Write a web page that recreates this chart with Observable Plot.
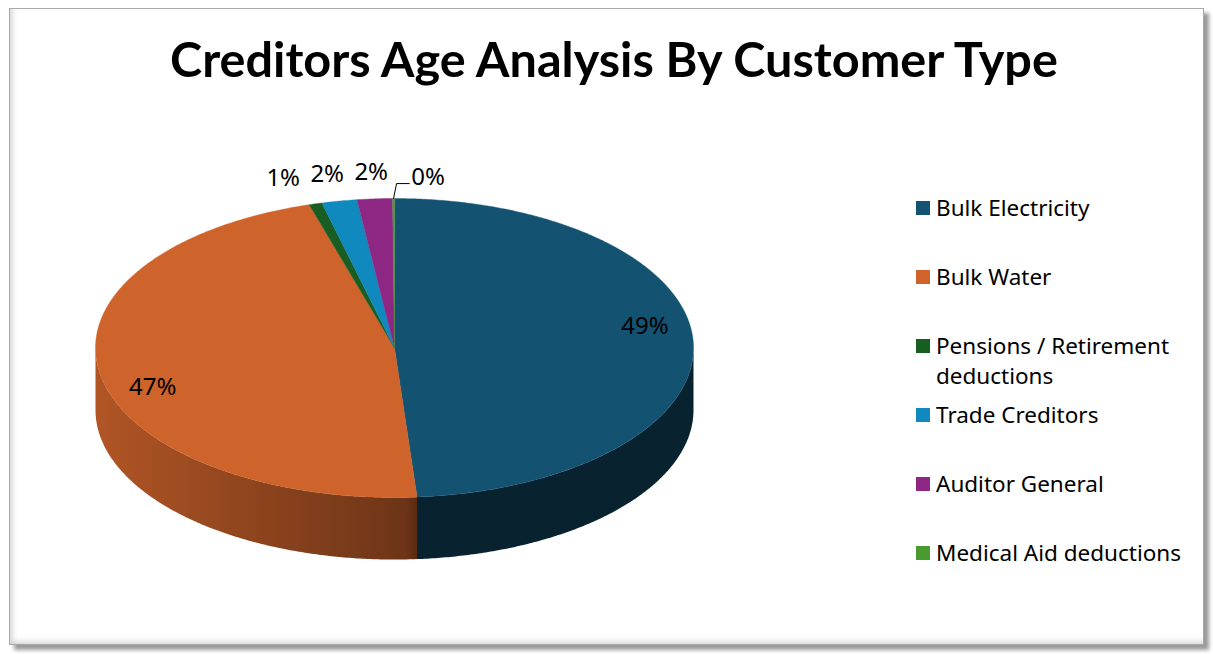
<!DOCTYPE html>
<html>
<head>
<meta charset="utf-8">
<script src="https://cdn.jsdelivr.net/npm/d3@7"></script>
<script src="https://cdn.jsdelivr.net/npm/@observablehq/plot@0.6"></script>
<style>
  html, body { margin: 0; padding: 0; background: #fff; }
  body { width: 1213px; height: 654px; overflow: hidden; position: relative; font-family: "Noto Sans", Lato, sans-serif; }
  #frame { position: absolute; left: 9px; top: 8px; width: 1193px; height: 635px; border: 1px solid #a9a9a9;
           box-shadow: 5px 5px 4px #9a9a9a, inset 8px 0 6px -6px #d0d0d0, inset 0 -8px 6px -6px #d0d0d0; background: #fff; }
  #chart { position: absolute; left: 0; top: 0; }
  #title { position: absolute; left: 0; width: 1228px; top: 32px; text-align: center; font-family: Lato, "Noto Sans", sans-serif;
           font-weight: 700; font-size: 44px; line-height: 52px; color: #000; white-space: nowrap; }
  #title span { display: inline-block; }
  .item { position: absolute; left: 916px; width: 270px; font-size: 22.5px; line-height: 30px; color: #000; }
  .sw { position: absolute; left: 0; top: 8px; width: 14px; height: 14px; }
  .tx { position: absolute; left: 20px; top: 0; width: 250px; }
</style>
</head>
<body>
<div id="frame"></div>
<div id="chart"></div>
<div id="title"><span id="titleText">Creditors Age Analysis By Customer Type</span></div>
<div id="legend"></div>
<script>
// ---- data ----
const categories = ["Bulk Electricity", "Bulk Water", "Pensions / Retirement deductions", "Trade Creditors", "Auditor General", "Medical Aid deductions"];
const shares = [48.8, 46.6, 0.7, 1.9, 1.9, 0.1];
const colors = ["#145272", "#CE632B", "#185E22", "#1089BE", "#8E2784", "#4A9B2F"];

// ---- geometry helpers ----
const deg = Math.PI / 180;
const DEPTH = 0.415;                 // side-wall thickness, in y units
const PXX = 2 / 598, PXY = 2 / 299;  // data units per pixel
const total = d3.sum(shares);
let cum = 0;
const slices = shares.map((v, i) => {
  const a0 = cum / total * 2 * Math.PI; cum += v;
  const a1 = cum / total * 2 * Math.PI;
  return { i, name: categories[i], value: v, a0, a1, mid: (a0 + a1) / 2, color: colors[i], label: Math.round(v / total * 100) + "%" };
});

function shade(ux) { return ux < 0.08 ? 0.54 - 0.32 * ux : 0.42; }
function darken(c, f) { const r = d3.rgb(c); return d3.rgb(r.r * f, r.g * f, r.b * f).formatHex(); }

const topFaces = [], sides = [];
for (const s of slices) {
  const n = Math.max(2, Math.ceil((s.a1 - s.a0) / (0.5 * deg)));
  const k = "t" + s.i;
  topFaces.push({ k, x: 0, y: 0, c: s.color });
  for (let j = 0; j <= n; j++) {
    const a = s.a0 + (s.a1 - s.a0) * j / n;
    topFaces.push({ k, x: Math.sin(a), y: Math.cos(a), c: s.color });
  }
  const lo = Math.max(s.a0, Math.PI / 2), hi = Math.min(s.a1, 3 * Math.PI / 2);
  if (hi > lo) {
    const m = Math.ceil((hi - lo) / (0.5 * deg));
    const ks = "s" + s.i, c = `url(#sideGrad${s.i})`;
    const edge = d3.range(m + 1).map(j => lo + (hi - lo) * j / m);
    for (const a of edge) sides.push({ k: ks, x: Math.sin(a), y: Math.cos(a), c });
    for (const a of edge.slice().reverse()) sides.push({ k: ks, x: Math.sin(a), y: Math.cos(a) - DEPTH, c });
  }
}

// ---- labels ----
const inside = [], outside = [], called = [], leader = [];
for (const s of slices) {
  if (s.value / total >= 0.1) {
    const a = s.mid - 7.5 * deg;
    inside.push({ x: 0.85 * Math.sin(a), y: 0.85 * Math.cos(a), label: s.label });
  } else if (s.value / total >= 0.005) {
    outside.push({ x: 1.18 * Math.sin(s.mid), y: 1.18 * Math.cos(s.mid), label: s.label, i: s.i });
  }
}
outside.sort((a, b) => b.x - a.x);
const gap = 44 * PXX;
for (let j = 1; j < outside.length; j++) {
  if (outside[j].x > outside[j - 1].x - gap) outside[j].x = outside[j - 1].x - gap;
}
for (const s of slices) {
  if (s.value / total < 0.005) {
    const prev = outside.find(o => o.i === s.i - 1) || outside[0];
    const lx = prev.x + 40 * PXX, ly = 1.14;
    called.push({ x: lx, y: ly, label: s.label });
    const ex = Math.sin(s.mid), ey = Math.cos(s.mid);
    leader.push({ x: ex, y: ey }, { x: ex + 3 * PXX, y: ly - 6 * PXY }, { x: lx - 2 * PXX, y: ly - 6 * PXY });
  }
}

const FONT = "'Noto Sans', Lato, sans-serif";
const chart = Plot.plot({
  width: 1213, height: 654, margin: 0,
  x: { domain: [-1, 1], range: [95, 693], axis: null },
  y: { domain: [-1, 1], range: [497, 198], axis: null },
  color: { type: "identity" },
  style: { background: "transparent", overflow: "visible" },
  marks: [
    Plot.line(sides, { x: "x", y: "y", z: "k", fill: d => d.c, stroke: "none", curve: "linear-closed" }),
    Plot.line(topFaces, { x: "x", y: "y", z: "k", fill: "c", stroke: "c", strokeWidth: 0.4, curve: "linear-closed" }),
    Plot.line(leader, { x: "x", y: "y", stroke: "#000", strokeWidth: 1 }),
    Plot.text(inside, { x: "x", y: "y", text: "label", fontSize: 24, fill: "#000", fontFamily: FONT }),
    Plot.text(outside, { x: "x", y: "y", text: "label", fontSize: 24, fill: "#000", fontFamily: FONT }),
    Plot.text(called, { x: "x", y: "y", text: "label", fontSize: 24, fill: "#000", fontFamily: FONT, textAnchor: "start" })
  ]
});

// horizontal shading gradients for the side walls (lighter on the left, darker towards the right)
const xs = chart.scale("x");
const ns = "http://www.w3.org/2000/svg";
const defs = document.createElementNS(ns, "defs");
for (const s of slices) {
  const g = document.createElementNS(ns, "linearGradient");
  g.setAttribute("id", "sideGrad" + s.i);
  g.setAttribute("gradientUnits", "userSpaceOnUse");
  g.setAttribute("x1", xs.apply(-1)); g.setAttribute("x2", xs.apply(1));
  g.setAttribute("y1", 0); g.setAttribute("y2", 0);
  for (let u = -1; u <= 1.0001; u += 0.04) {
    const st = document.createElementNS(ns, "stop");
    st.setAttribute("offset", ((u + 1) / 2).toFixed(3));
    st.setAttribute("stop-color", darken(s.color, shade(u)));
    g.appendChild(st);
  }
  defs.appendChild(g);
}
chart.insertBefore(defs, chart.firstChild);
document.getElementById("chart").appendChild(chart);

// ---- legend ----
const legend = document.getElementById("legend");
categories.forEach((name, i) => {
  const item = document.createElement("div");
  item.className = "item";
  item.style.top = (193 + i * 69) + "px";
  const sw = document.createElement("div");
  sw.className = "sw"; sw.style.background = colors[i];
  const tx = document.createElement("div");
  tx.className = "tx"; tx.textContent = name;
  item.appendChild(sw); item.appendChild(tx);
  legend.appendChild(item);
});

// fit title width to the reference's span
const t = document.getElementById("titleText");
const w = t.getBoundingClientRect().width;
document.getElementById("title").style.fontSize = (44 * 888 / w) + "px";
</script>
</body>
</html>
